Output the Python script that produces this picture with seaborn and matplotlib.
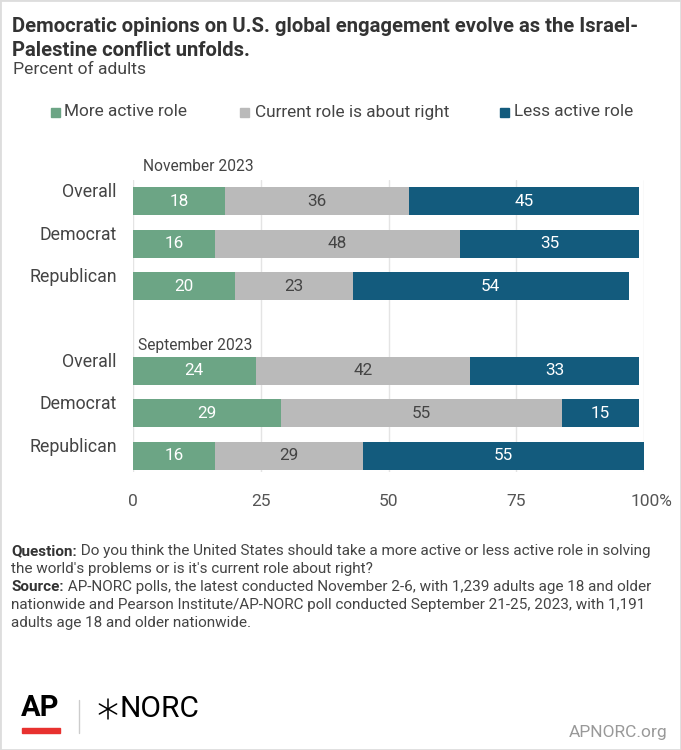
import matplotlib
matplotlib.use("Agg")
import matplotlib.pyplot as plt
from matplotlib.patches import Rectangle
from matplotlib.lines import Line2D
from matplotlib.transforms import ScaledTranslation
import pandas as pd
import seaborn as sns

# data
groups = ["November 2023", "September 2023"]
rows = ["Overall", "Democrat", "Republican"]
responses = ["More active role", "Current role is about right", "Less active role"]
nov_more = [18, 16, 20]
nov_right = [36, 48, 23]
nov_less = [45, 35, 54]
sep_more = [24, 29, 16]
sep_right = [42, 55, 29]
sep_less = [33, 15, 55]

colors = {"More active role": "#6ca585",
          "Current role is about right": "#bababa",
          "Less active role": "#135b7d"}
txt_colors = {"More active role": "white",
              "Current role is about right": "#444444",
              "Less active role": "white"}

# y positions: one empty slot between the two waves
positions = [0, 1, 2, 4, 5, 6]

recs = []
vals = [(nov_more, nov_right, nov_less), (sep_more, sep_right, sep_less)]
for g, (m, r, l) in enumerate(vals):
    for i, row in enumerate(rows):
        pos = positions[g * 3 + i]
        cum = 0
        for resp, v in zip(responses, (m[i], r[i], l[i])):
            recs.append(dict(group=groups[g], row=row, pos=pos, response=resp,
                             value=v, start=cum, cum=cum + v))
            cum += v
df = pd.DataFrame(recs)

sns.set_style("white")
plt.rcParams["font.family"] = ["Roboto", "DejaVu Sans"]

fig = plt.figure(figsize=(6.81, 7.5), dpi=100)
ax = fig.add_axes([0.1953, 0.3707, 0.7504, 0.3893])

# stacked bars: draw cumulative totals from the last segment to the first
for resp in reversed(responses):
    sub = df[df.response == resp]
    sns.barplot(data=sub, x="cum", y="pos", orient="h", native_scale=True,
                color=colors[resp], width=0.66, errorbar=None, linewidth=0,
                saturation=1, ax=ax, zorder=2)

for _, r in df.iterrows():
    ax.text(r.start + r.value / 2, r.pos, str(r.value), ha="center", va="center",
            fontsize=12.3, color=txt_colors[r.response], zorder=3)

for g in range(2):
    for i, row in enumerate(rows):
        ax.text(-3.2, positions[g * 3 + i] - 0.21, row, ha="right", va="center",
                fontsize=12.8, color="#444444", clip_on=False)

ax.text(1.9, positions[0] - 0.82, groups[0], ha="left", va="center",
        fontsize=11.2, color="#444444", clip_on=False)
ax.text(0.9, positions[3] - 0.6, groups[1], ha="left", va="center",
        fontsize=11.2, color="#444444", clip_on=False)

ax.set_xlim(0, 100)
ax.set_ylim(6.38, -0.5)
ax.set_xticks([0, 25, 50, 75, 100])
ax.set_xticklabels(["0", "25", "50", "75", "100%"])
ax.set_yticks([])
ax.set_xlabel("")
ax.set_ylabel("")
ax.tick_params(axis="x", length=0, pad=16, labelsize=12.5, labelcolor="#555555")
ax.grid(axis="x", color="#e4e4e4", linewidth=1)
ax.set_axisbelow(True)
sns.despine(ax=ax, left=True, bottom=True)
lbl = ax.get_xticklabels()[-1]
lbl.set_transform(lbl.get_transform() + ScaledTranslation(7 / 100, 0, fig.dpi_scale_trans))


def fy(px):
    return 1 - px / 750


def fx(px):
    return px / 681


# title block
fig.text(fx(12), fy(27), "Democratic opinions on U.S. global engagement evolve as the Israel-",
         fontsize=14.6, fontweight="bold", color="#333333", va="center")
fig.text(fx(12), fy(50), "Palestine conflict unfolds.",
         fontsize=14.6, fontweight="bold", color="#333333", va="center")
fig.text(fx(13), fy(70), "Percent of adults", fontsize=12.6, color="#444444", va="center")

# legend
for sq, tx, resp in [(51, 64, responses[0]), (240, 255, responses[1]), (500, 514, responses[2])]:
    fig.patches.append(Rectangle((fx(sq), fy(117)), fx(9), 9 / 750, color=colors[resp],
                                 transform=fig.transFigure, figure=fig))
    fig.text(fx(tx), fy(112), resp, fontsize=12.4, color="#444444", va="center")

# notes
notes = [
    ("Question:", " Do you think the United States should take a more active or less active role in solving"),
    ("", "the world's problems or is it's current role about right?"),
    ("Source:", " AP-NORC polls, the latest conducted November 2-6, with 1,239 adults age 18 and older"),
    ("", "nationwide and Pearson Institute/AP-NORC poll conducted September 21-25, 2023, with 1,191"),
    ("", "adults age 18 and older nationwide."),
]
for k, (bold, rest) in enumerate(notes):
    y = fy(551 + k * 18)
    t = fig.text(fx(11), y, bold, fontsize=11, fontweight="bold", color="#333333", va="center")
    if bold:
        fig.canvas.draw()
        bb = t.get_window_extent()
        fig.text(bb.x1 / fig.bbox.width, y, rest, fontsize=11, color="#444444", va="center")
    else:
        fig.text(fx(11), y, rest, fontsize=11, color="#444444", va="center")

# logos
fig.text(fx(21), fy(708), "AP", fontsize=21, fontweight="bold", color="black", va="center")
fig.patches.append(Rectangle((fx(22), fy(733)), fx(38), 5 / 750, color="#e8312f",
                             transform=fig.transFigure, figure=fig))
fig.lines.append(Line2D([fx(79), fx(79)], [fy(700), fy(733)], color="#cccccc", lw=1,
                        transform=fig.transFigure))
cx, cy, rad = 108, 709, 10
for dx, dy in [(0, 1), (0.866, 0.5), (0.866, -0.5)]:
    fig.lines.append(Line2D([fx(cx - rad * dx), fx(cx + rad * dx)],
                            [fy(cy - rad * dy), fy(cy + rad * dy)],
                            color="black", lw=1.1, transform=fig.transFigure))
fig.text(fx(119), fy(709), "NORC", fontsize=21.5, color="black", va="center")
fig.text(fx(668), fy(732), "APNORC.org", fontsize=12.5, color="#999999", va="center", ha="right")

# light frame
fig.patches.append(Rectangle((0, 0), 1, 1, fill=False, edgecolor="#dddddd", lw=2,
                             transform=fig.transFigure, figure=fig))

fig.savefig("out.png", dpi=100)
